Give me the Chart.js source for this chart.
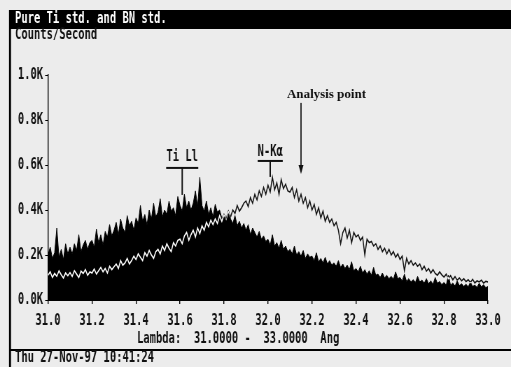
<!DOCTYPE html>
<html>
<head>
<meta charset="utf-8">
<script src="https://cdn.jsdelivr.net/npm/chart.js@4"></script>
<style>
html, body { margin: 0; padding: 0; background: #ececec; overflow: hidden; }
/* the canvas is drawn wide and squeezed back to 511px: gives the narrow DOS lettering */
#wrap { position: absolute; left: 0; top: 0; width: 730px; height: 367px; transform: scaleX(0.7); transform-origin: 0 0; }
</style>
</head>
<body>
<div id="wrap"><canvas id="spectrum" width="730" height="367"></canvas></div>
<script>
const K = 0.7;
const W = 730, H = 367;
const DOS = '"DejaVu Sans Mono", monospace';

// scan range, one reading every 0.01 Ang
const lambdaFrom = 31.0;
const lambdaTo = 33.0;

// Pure Ti std. (filled black), counts/second
const tiCounts = [
  200, 235, 185, 210, 320, 190, 225, 180, 250, 205,
  235, 205, 250, 220, 290, 215, 245, 265, 225, 255,
  265, 235, 315, 255, 290, 245, 305, 280, 335, 285,
  310, 345, 290, 360, 320, 300, 375, 330, 350, 310,
  365, 340, 420, 350, 380, 335, 400, 360, 430, 370,
  390, 450, 370, 400, 380, 440, 395, 410, 375, 460,
  420, 395, 470, 410, 440, 400, 430, 485, 415, 545,
  420, 395, 440, 380, 410, 370, 425, 390, 400, 365,
  380, 350, 395, 360, 340, 375, 330, 350, 320, 340,
  310, 335, 290, 320, 300, 280, 305, 270, 285, 260,
  270, 245, 290, 240, 255, 230, 265, 225, 240, 215,
  225, 205, 240, 200, 215, 195, 220, 185, 205, 190,
  195, 175, 210, 170, 185, 165, 190, 160, 175, 155,
  165, 150, 175, 145, 160, 140, 155, 135, 170, 130,
  140, 125, 150, 120, 135, 115, 130, 110, 145, 110,
  115, 100, 120, 98, 110, 95, 105, 92, 125, 95,
  100, 85, 115, 82, 95, 80, 90, 78, 105, 80,
  88, 75, 95, 72, 85, 70, 100, 74, 82, 68,
  78, 66, 110, 65, 75, 62, 85, 64, 72, 60,
  70, 58, 80, 60, 66, 56, 75, 58, 68, 55,
  60
];

// BN std. (line, drawn XOR-style over the Ti fill)
const bnCounts = [
  110, 125, 100, 118, 105, 130, 112, 98, 120, 108,
  122, 105, 130, 115, 100, 128, 118, 135, 110, 125,
  120, 138, 115, 130, 145, 125, 140, 120, 150, 135,
  148, 160, 140, 175, 155, 165, 185, 160, 175, 195,
  180, 205, 190, 175, 210, 195, 220, 200, 185, 215,
  225, 205, 240, 220, 250, 230, 215, 255, 240, 265,
  270, 250, 285, 300, 265, 290, 310, 280, 320, 295,
  330, 310, 345, 325, 355, 335, 360, 340, 375, 350,
  380, 360, 395, 370, 400, 385, 420, 395, 410, 430,
  440, 415, 455, 430, 470, 445, 485, 460, 500, 470,
  510, 480, 545, 490, 520, 470, 535, 495, 515, 485,
  480, 500, 455, 490, 440, 470, 430, 455, 410, 440,
  400, 425, 380, 410, 365, 395, 350, 375, 345, 360,
  330, 345, 310, 250, 300, 320, 275, 310, 255, 300,
  280, 290, 265, 280, 200, 270, 255, 260, 240, 250,
  225, 240, 215, 230, 205, 225, 200, 215, 190, 205,
  180, 195, 130, 185, 160, 175, 155, 165, 150, 160,
  135, 150, 128, 140, 120, 135, 118, 110, 125, 112,
  102, 115, 95, 108, 90, 104, 88, 98, 85, 95,
  82, 90, 78, 92, 76, 85, 80, 88, 75, 83,
  80
];

// line markers, positions in Ang / counts
const peaks = [
  { label: 'Ti Ll', x: 31.61, textY: 636, barY: 587, tipY: 467, half: 0.073 },
  { label: 'N-K\u03b1', x: 32.01, textY: 658, barY: 618, tipY: 547, half: 0.057 }
];
const analysis = { label: 'Analysis point', x: 32.15, textX: 32.086, textY: 911, topY: 876, tipY: 560 };

function toPoints(values) {
  const step = (lambdaTo - lambdaFrom) / (values.length - 1);
  return values.map((v, i) => ({ x: lambdaFrom + i * step, y: v }));
}

const tickFont = { family: DOS, size: 15, weight: 'bold' };

const screenLook = {
  id: 'screenLook',
  beforeDraw(chart) {
    const ctx = chart.ctx;
    ctx.save();
    ctx.fillStyle = '#ececec';
    ctx.fillRect(0, 0, W, H);
    ctx.restore();
  },
  beforeDatasetDraw(chart, args) {
    if (args.index === 0) {
      chart.ctx.save();
      chart.ctx.globalCompositeOperation = 'difference';
    }
  },
  afterDatasetDraw(chart, args) {
    if (args.index === 0) chart.ctx.restore();
  },
  afterDraw(chart) {
    const ctx = chart.ctx;
    const xs = chart.scales.x, ys = chart.scales.y;
    ctx.save();
    ctx.fillStyle = '#000';
    ctx.fillRect(10 / K, 10, W, 19);
    ctx.fillRect(9 / K, 10, 2 / K, H);
    ctx.fillRect(10 / K, 349, W, 2);

    ctx.font = 'bold 15px ' + DOS;
    ctx.textBaseline = 'middle';
    ctx.textAlign = 'left';
    ctx.fillStyle = '#fff';
    ctx.fillText('Pure Ti std. and BN std.', 15 / K, 19);
    ctx.fillStyle = '#111';
    ctx.fillText('Counts/Second', 15 / K, 35.5);
    ctx.fillText('Lambda:  31.0000 -  33.0000  Ang', 137 / K, 339);
    ctx.fillText('Thu 27-Nov-97 10:41:24', 15 / K, 358.5);

    // Ti Ll / N-Ka markers
    ctx.textAlign = 'center';
    peaks.forEach(p => {
      const px = xs.getPixelForValue(p.x);
      const l = xs.getPixelForValue(p.x - p.half);
      const r = xs.getPixelForValue(p.x + p.half);
      const by = ys.getPixelForValue(p.barY);
      const ty = ys.getPixelForValue(p.tipY);
      ctx.fillRect(l, by - 1, r - l, 2);
      ctx.fillRect(px - 0.7 / K, by, 1.4 / K, ty - by);
      ctx.fillText(p.label, px, ys.getPixelForValue(p.textY));
    });

    // analysis point arrow, serif label not squeezed
    const ax = xs.getPixelForValue(analysis.x);
    const top = ys.getPixelForValue(analysis.topY);
    const tip = ys.getPixelForValue(analysis.tipY);
    ctx.fillRect(ax - 0.6 / K, top, 1.2 / K, tip - top - 6);
    ctx.beginPath();
    ctx.moveTo(ax - 2.5 / K, tip - 9);
    ctx.lineTo(ax, tip);
    ctx.lineTo(ax + 2.5 / K, tip - 9);
    ctx.closePath();
    ctx.fill();

    ctx.translate(xs.getPixelForValue(analysis.textX), ys.getPixelForValue(analysis.textY));
    ctx.scale(1 / K, 1);
    ctx.textAlign = 'left';
    ctx.font = 'bold 13px "Liberation Serif", serif';
    ctx.fillText(analysis.label, 0, 0);
    ctx.restore();
  }
};

const ctx = document.getElementById('spectrum').getContext('2d');
const chart = new Chart(ctx, {
  type: 'line',
  data: {
    datasets: [
      {
        label: 'BN std.',
        data: toPoints(bnCounts),
        borderColor: '#fff',
        borderWidth: 1.5,
        fill: false
      },
      {
        label: 'Pure Ti std.',
        data: toPoints(tiCounts),
        borderColor: '#000',
        backgroundColor: '#000',
        borderWidth: 1,
        fill: 'origin'
      }
    ]
  },
  options: {
    responsive: false,
    devicePixelRatio: 1,
    animation: false,
    layout: { padding: { top: 75, right: W - 488 / K, bottom: 0, left: 0 } },
    plugins: { legend: { display: false }, tooltip: { enabled: false } },
    elements: { point: { radius: 0 }, line: { tension: 0 } },
    scales: {
      x: {
        type: 'linear',
        min: lambdaFrom,
        max: lambdaTo,
        afterFit(scale) { scale.height = 67; },
        border: { display: true, color: '#000', width: 1 },
        grid: { drawOnChartArea: false, drawTicks: true, tickLength: 4, color: '#000', lineWidth: 1.4 },
        ticks: { stepSize: 0.2, padding: 8, color: '#111', font: tickFont, maxRotation: 0, autoSkip: false,
                 callback: v => v.toFixed(1) }
      },
      y: {
        min: 0,
        max: 1000,
        afterFit(scale) { scale.width = 48 / K; },
        border: { display: true, color: '#000', width: 1.4 },
        grid: { drawOnChartArea: false, drawTicks: true, tickLength: 4, color: '#000', lineWidth: 1 },
        ticks: { stepSize: 200, padding: 3, color: '#111', font: tickFont,
                 callback: v => (v / 1000).toFixed(1) + 'K' }
      }
    }
  },
  plugins: [screenLook]
});
</script>
</body>
</html>
